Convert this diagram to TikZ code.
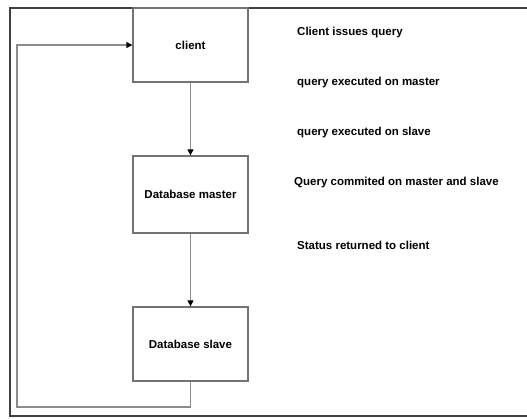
\documentclass[tikz,border=0pt]{standalone}
\usepackage{fontspec}
\setmainfont{Liberation Sans}
\usetikzlibrary{arrows.meta}
\begin{document}
\begin{tikzpicture}[x=1pt,y=-1pt,
  box/.style={draw=black!55,line width=1.3pt,fill=white,minimum width=115pt,inner sep=0pt,font=\fontsize{11.5}{13}\selectfont\bfseries},
  lbl/.style={anchor=west,inner sep=0pt,font=\fontsize{11.5}{13}\selectfont\bfseries},
  conn/.style={draw=black!45,line width=1.3pt,-{Triangle[length=6pt,width=6pt,color=black]}}]
\useasboundingbox (0,0) rectangle (527,419);
% frame
\draw[black!75,line width=2pt] (527,8) -- (10,8) -- (10,416) -- (527,416);
% boxes
\node[box,minimum height=74pt] (client) at (190.5,45) {client};
\node[box,minimum height=77pt] (master) at (190.5,194.5) {Database master};
\node[box,minimum height=74pt] (slave) at (190.5,344) {Database slave};
% connectors
\draw[conn] (client) -- (master);
\draw[conn] (master) -- (slave);
\coordinate (c1) at (190.5,407);
\coordinate (c2) at (17,407);
\coordinate (c3) at (17,45);
\draw[conn] (slave.south) -- (c1) -- (c2) -- (c3) -- (client.west);
% labels
\node[lbl] (t1) at (297,33) {Client issues query};
\node[lbl] (t2) at (297,83) {query executed on master};
\node[lbl] (t3) at (297,133) {query executed on slave};
\node[lbl] (t4) at (294,183) {Query commited on master and slave};
\node[lbl] (t5) at (297,245) {Status returned to client};
\end{tikzpicture}
\end{document}
